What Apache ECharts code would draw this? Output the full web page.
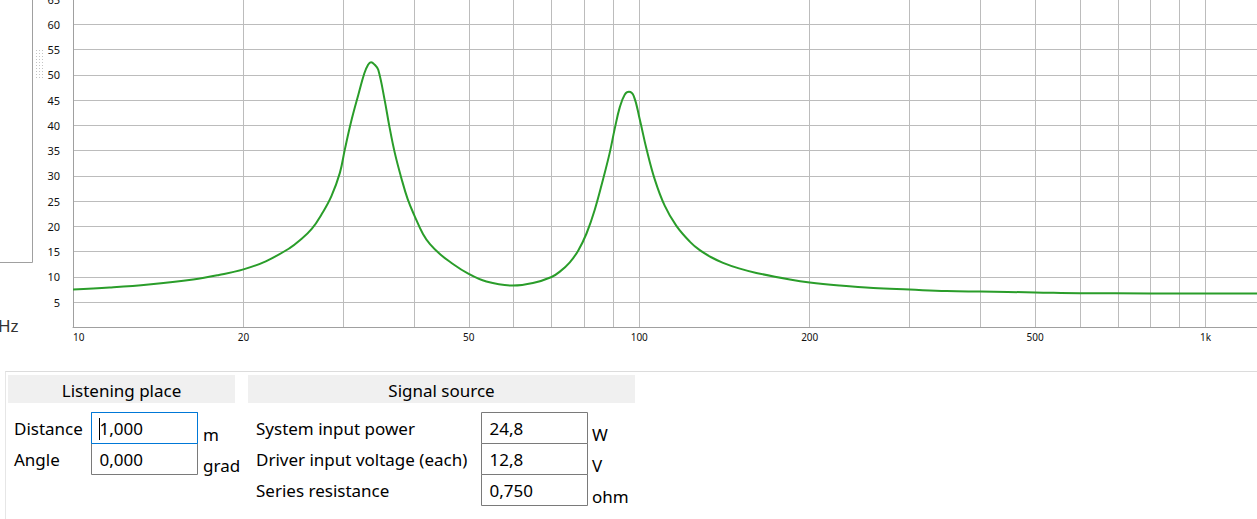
<!DOCTYPE html>
<html>
<head>
<meta charset="utf-8">
<script src="https://cdn.jsdelivr.net/npm/echarts@6/dist/echarts.min.js"></script>
<style>
  html, body { margin: 0; padding: 0; background: #fff; }
  #chart { width: 1257px; height: 519px; }
</style>
</head>
<body>
<div id="chart"></div>
<script>
// impedance curve (Hz / ohm)
const freqHz = [10, 11.6, 13.6, 16.3, 18.1, 20, 21.9, 24.1, 25.1, 26.4, 27.6, 28.6, 29.6, 30.2, 31.0, 31.9,
  32.7, 33.2, 33.6, 34.1, 34.6, 35.5, 36.2, 37.0, 38.0, 39.0, 40.1, 41.5, 42.7, 44.5, 46.3, 49.8, 53.7, 59.8,
  64.9, 70, 72.5, 75.4, 78.0, 80.7, 83.4, 86.3, 88.7, 90.5, 92.4, 94.3, 95.9, 97.8, 100.2, 103.0, 106.5,
  110.9, 116.3, 122.8, 127.9, 134, 140.6, 150, 161, 184.5, 200, 226, 259, 300, 349, 400, 500, 600, 800, 1000, 1233];
const impedance = [7.5, 7.9, 8.5, 9.5, 10.4, 11.5, 13.1, 15.65, 17.15, 19.5, 22.75, 26.0, 30.6, 35.2, 40.8, 46.0,
  50.3, 52.0, 52.5, 52.0, 51.0, 45.1, 39.8, 34.6, 29.6, 25.4, 22.1, 18.5, 16.5, 14.5, 13.0, 10.7, 9.1, 8.3,
  8.8, 10.0, 11.1, 12.9, 15.2, 18.6, 23.2, 29.3, 34.6, 39.3, 43.6, 46.1, 46.65, 45.8, 41.2, 35.3, 29.3,
  24.1, 20.1, 17.0, 15.3, 13.9, 12.8, 11.7, 10.8, 9.5, 8.9, 8.3, 7.8, 7.5, 7.2, 7.1, 6.95, 6.8, 6.75, 6.75, 6.75];

// grid lines and labels of the frequency axis
const freqGrid = [10, 20, 30, 40, 50, 60, 70, 80, 90, 100, 200, 300, 400, 500, 600, 700, 800, 900, 1000];
const freqLabels = [10, 20, 50, 100, 200, 500, 1000];

// form panel
const listeningRows = [
  { label: 'Distance', value: '1,000', unit: 'm' },
  { label: 'Angle', value: '0,000', unit: 'grad' }
];
const signalRows = [
  { label: 'System input power', value: '24,8', unit: 'W' },
  { label: 'Driver input voltage (each)', value: '12,8', unit: 'V' },
  { label: 'Series resistance', value: '0,750', unit: 'ohm' }
];

const uiFont = '"Noto Sans", "Open Sans", sans-serif';
const gridColor = '#bcbcbc';

const graphics = [];
// left side box and grip
graphics.push({ type: 'polyline', shape: { points: [[32.5, 0], [32.5, 262.5], [0, 262.5]] },
  style: { stroke: '#a0a0a0', lineWidth: 1, fill: null } });
[36.5, 39.5, 42.5].forEach(x => {
  graphics.push({ type: 'line', shape: { x1: x, y1: 50, x2: x, y2: 78 },
    style: { stroke: '#c4c4c4', lineWidth: 1, lineDash: [1, 2] } });
});
graphics.push({ type: 'text', x: -2, y: 325,
  style: { text: 'Hz', font: '17px ' + uiFont, fill: '#333', textVerticalAlign: 'middle' } });

// panel frame
graphics.push({ type: 'line', shape: { x1: 5, y1: 371.5, x2: 1257, y2: 371.5 },
  style: { stroke: '#dcdcdc', lineWidth: 1 } });
graphics.push({ type: 'line', shape: { x1: 5.5, y1: 371.5, x2: 5.5, y2: 519 },
  style: { stroke: '#e6e6e6', lineWidth: 1 } });

function header(x, w, text) {
  graphics.push({ type: 'rect', shape: { x: x, y: 375, width: w, height: 28 },
    style: { fill: '#f0f0f0' } });
  graphics.push({ type: 'text', x: x + w / 2, y: 390,
    style: { text: text, font: '17px ' + uiFont, fill: '#000', textAlign: 'center', textVerticalAlign: 'middle' } });
}
header(8, 227, 'Listening place');
header(248, 387, 'Signal source');

function rows(list, labelX, boxX, unitX) {
  list.forEach((r, i) => {
    const top = 412.5 + i * 31;
    const mid = top + 16;
    graphics.push({ type: 'text', x: labelX, y: mid,
      style: { text: r.label, font: '17px ' + uiFont, fill: '#000', textVerticalAlign: 'middle' } });
    graphics.push({ type: 'rect', shape: { x: boxX, y: top, width: 106, height: 31 },
      style: { fill: '#fff', stroke: '#7a7a7a', lineWidth: 1 } });
    graphics.push({ type: 'text', x: boxX + 8, y: mid,
      style: { text: r.value, font: '17px ' + uiFont, fill: '#000', textVerticalAlign: 'middle' } });
    graphics.push({ type: 'text', x: unitX, y: mid + 6,
      style: { text: r.unit, font: '17px ' + uiFont, fill: '#000', textVerticalAlign: 'middle' } });
  });
}
rows(listeningRows, 14, 91.5, 203);
rows(signalRows, 256, 481.5, 592);
// focused input
graphics.push({ type: 'rect', shape: { x: 91.5, y: 412.5, width: 106, height: 31 },
  style: { fill: null, stroke: '#0078d7', lineWidth: 1 } });
graphics.push({ type: 'line', shape: { x1: 99.5, y1: 418, x2: 99.5, y2: 440 },
  style: { stroke: '#000', lineWidth: 1 } });

const chart = echarts.init(document.getElementById('chart'), null, { renderer: 'svg' });
chart.setOption({
  animation: false,
  backgroundColor: '#fff',
  grid: { left: 73, top: -1, width: 1184, height: 328.5, containLabel: false, outerBoundsMode: 'none' },
  xAxis: {
    type: 'log',
    logBase: 10,
    min: 10,
    max: 1233,
    axisLine: { lineStyle: { color: '#a0a0a0' } },
    axisTick: { show: false, customValues: freqGrid },
    splitLine: { show: true, lineStyle: { color: gridColor, width: 1 } },
    axisLabel: {
      customValues: freqLabels,
      alignMinLabel: 'left',
      margin: 4,
      fontSize: 10,
      fontFamily: uiFont,
      color: '#111',
      formatter: v => (v >= 1000 ? (v / 1000) + 'k' : String(Math.round(v)))
    }
  },
  yAxis: {
    type: 'value',
    min: 0,
    max: 65,
    interval: 5,
    axisLine: { show: true, lineStyle: { color: '#a0a0a0' } },
    axisTick: { show: false },
    splitLine: { show: true, lineStyle: { color: gridColor, width: 1 } },
    axisLabel: {
      margin: 13,
      fontSize: 11,
      fontFamily: uiFont,
      color: '#111',
      formatter: v => (v === 0 ? '' : String(v))
    }
  },
  series: [{
    type: 'line',
    data: freqHz.map((f, i) => [f, impedance[i]]),
    showSymbol: false,
    smooth: 0.4,
    lineStyle: { color: '#2a9d2a', width: 2 },
    z: 5
  }],
  graphic: graphics
});
</script>
</body>
</html>
